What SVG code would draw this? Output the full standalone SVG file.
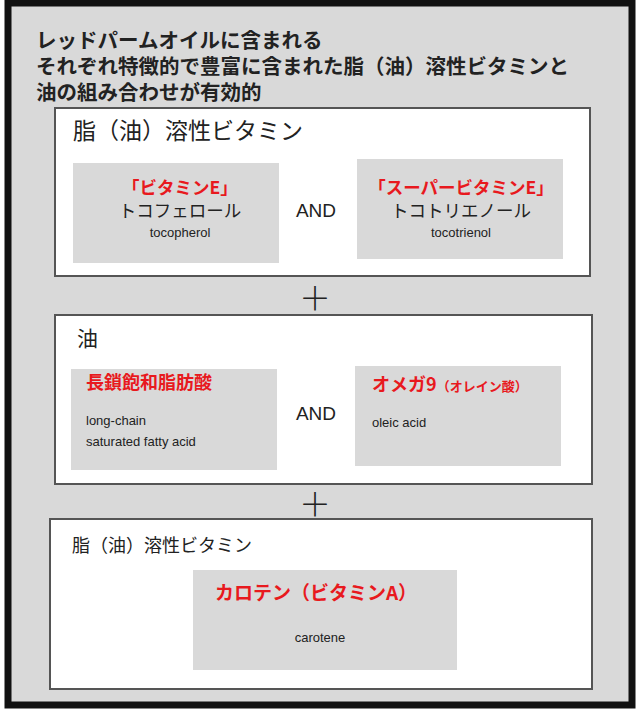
<svg xmlns="http://www.w3.org/2000/svg" width="640" height="712" viewBox="0 0 640 712">
<style>
text{font-family:"Noto Sans CJK JP","Liberation Sans",sans-serif;fill:#222}
.box{fill:#fff;stroke:#555;stroke-width:2}
.sub{fill:#d9d9d9}
.red{fill:#e8191e;font-weight:bold}
.t{font-weight:bold;font-size:20.5px}
.en{font-family:"Liberation Sans",sans-serif;font-size:13px}
.and{font-family:"Liberation Sans",sans-serif;font-size:19px}
</style>
<rect x="8" y="3" width="624" height="702" fill="#d9d9d9" stroke="#111" stroke-width="7"/>
<g id="title">
<text class="t" x="36" y="48">レッドパームオイルに含まれる</text>
<text class="t" x="36" y="74">それぞれ特徴的で豊富に含まれた脂（油）溶性ビタミンと</text>
<text class="t" x="36" y="100">油の組み合わせが有効的</text>
</g>
<g id="box1">
<rect class="box" x="55" y="108" width="535" height="168"/>
<text x="73" y="139" font-size="23">脂（油）溶性ビタミン</text>
<rect class="sub" x="73" y="163" width="206" height="100"/>
<text class="red" x="180" y="194" font-size="17.5" text-anchor="middle">「ビタミンE」</text>
<text x="180" y="217" font-size="17.5" text-anchor="middle">トコフェロール</text>
<text class="en" x="180" y="237" text-anchor="middle">tocopherol</text>
<text class="and" x="316" y="217" text-anchor="middle">AND</text>
<rect class="sub" x="357" y="159" width="206" height="100"/>
<text class="red" x="461" y="194" font-size="17.5" text-anchor="middle">「スーパービタミンE」</text>
<text x="461" y="217" font-size="17.5" text-anchor="middle">トコトリエノール</text>
<text class="en" x="461" y="237" text-anchor="middle">tocotrienol</text>
</g>
<g id="plus1"><text x="315" y="310" font-size="32" font-weight="300" text-anchor="middle">＋</text></g>
<g id="box2">
<rect class="box" x="55" y="315" width="537" height="169"/>
<text x="77" y="346" font-size="21">油</text>
<rect class="sub" x="71" y="369" width="206" height="101"/>
<text class="red" x="86" y="389" font-size="18">長鎖飽和脂肪酸</text>
<text class="en" x="86" y="425">long-chain</text>
<text class="en" x="86" y="446">saturated fatty acid</text>
<text class="and" x="316" y="420" text-anchor="middle">AND</text>
<rect class="sub" x="355" y="366" width="206" height="100"/>
<text class="red" x="372" y="391" font-size="18">オメガ9<tspan font-size="13">（オレイン酸）</tspan></text>
<text class="en" x="372" y="427">oleic acid</text>
</g>
<g id="plus2"><text x="315" y="516" font-size="32" font-weight="300" text-anchor="middle">＋</text></g>
<g id="box3">
<rect class="box" x="50" y="519" width="542" height="170"/>
<text x="72" y="552" font-size="18">脂（油）溶性ビタミン</text>
<rect class="sub" x="193" y="570" width="264" height="100"/>
<text class="red" x="316" y="600" font-size="19" text-anchor="middle">カロテン（ビタミンA）</text>
<text class="en" x="320" y="642" text-anchor="middle">carotene</text>
</g>
</svg>
